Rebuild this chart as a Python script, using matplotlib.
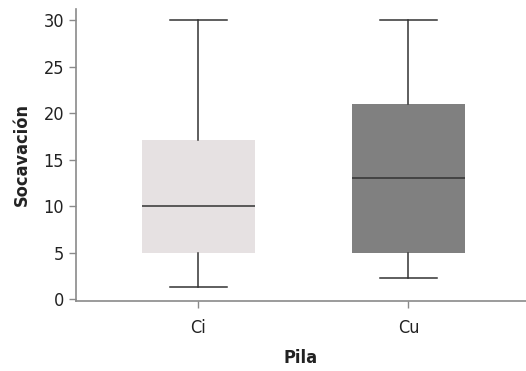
import matplotlib.pyplot as plt

# datos
pilas = ['Ci', 'Cu']
minimos = [1.25, 2.3]
q1 = [5.0, 5.0]
medianas = [10.0, 13.0]
q3 = [17.1, 21.0]
maximos = [30.0, 30.0]
colores = ['#e6e1e2', '#808080']

plt.rcParams['font.family'] = ['DejaVu Sans']
plt.rcParams['font.stretch'] = 'condensed'

stats = []
for i in range(len(pilas)):
    stats.append({'label': pilas[i], 'whislo': minimos[i], 'q1': q1[i], 'med': medianas[i],
                  'q3': q3[i], 'whishi': maximos[i], 'fliers': []})

fig = plt.figure(figsize=(5.26, 3.71), dpi=100)
ax = fig.add_axes([0.1445, 0.19, 0.8555, 0.7857])

bp = ax.bxp(stats, positions=[0, 1], widths=0.54, patch_artist=True, showfliers=False,
            boxprops=dict(linewidth=0),
            medianprops=dict(color='#333333', linewidth=1.1),
            whiskerprops=dict(color='#333333', linewidth=1.1),
            capprops=dict(color='#333333', linewidth=1.1),
            capwidths=0.27)
for caja, c in zip(bp['boxes'], colores):
    caja.set_facecolor(c)
    caja.set_edgecolor(c)

ax.set_xlim(-0.583, 1.56)
ax.set_ylim(-0.15, 31.2)
ax.set_yticks([0, 5, 10, 15, 20, 25, 30])
ax.spines['top'].set_visible(False)
ax.spines['right'].set_visible(False)
for s in ['left', 'bottom']:
    ax.spines[s].set_color('#8a8a8a')
    ax.spines[s].set_linewidth(1.2)
ax.tick_params(colors='#8a8a8a', labelcolor='#222222', labelsize=13, length=5, width=1)
ax.tick_params(axis='x', pad=8)
ax.set_xlabel('Pila', fontsize=13, fontweight='bold', color='#222222', labelpad=9)
ax.set_ylabel('Socavación', fontsize=13, fontweight='bold', color='#222222', labelpad=9)

fig.savefig('out.png', dpi=100)
